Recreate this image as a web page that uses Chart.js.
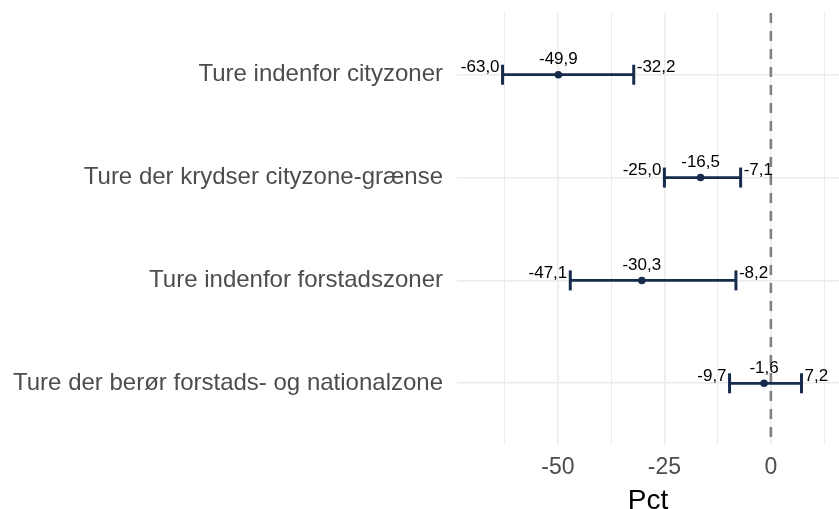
<!DOCTYPE html>
<html>
<head>
<meta charset="utf-8">
<script src="https://cdn.jsdelivr.net/npm/chart.js@4/dist/chart.umd.min.js"></script>
<style>
  html, body { margin: 0; padding: 0; background: #fff; }
  #wrap { width: 839px; height: 509px; }
</style>
</head>
<body>
<div id="wrap"><canvas id="chart" width="839" height="509"></canvas></div>
<script>
const categories = [
  'Ture indenfor cityzoner',
  'Ture der krydser cityzone-grænse',
  'Ture indenfor forstadszoner',
  'Ture der berør forstads- og nationalzone'
]
const estimate = [-49.9, -16.5, -30.3, -1.6]
const lower = [-63.0, -25.0, -47.1, -9.7]
const upper = [-32.2, -7.1, -8.2, 7.2]
const xTicks = [-62.5, -50, -37.5, -25, -12.5, 0, 12.5]

const navy = '#172b4d'
const fmt = v => v.toFixed(1).replace('.', ',')

// one horizontal segment per row
const barSets = categories.map((c, i) => ({
  type: 'line',
  data: [{ x: lower[i], y: i + 1 }, { x: upper[i], y: i + 1 }],
  borderColor: navy,
  borderWidth: 2.7,
  pointRadius: 0,
  order: 2
}))

const capPoints = []
categories.forEach((c, i) => {
  capPoints.push({ x: lower[i], y: i + 1 })
  capPoints.push({ x: upper[i], y: i + 1 })
})

const labelPlugin = {
  id: 'valueLabels',
  afterDatasetsDraw(chart) {
    const { ctx, scales: { x, y } } = chart
    ctx.save()
    ctx.font = '17px "Liberation Sans", Arial, sans-serif'
    ctx.fillStyle = '#000'
    ctx.textBaseline = 'middle'
    categories.forEach((c, i) => {
      const py = y.getPixelForValue(i + 1)
      ctx.textAlign = 'right'
      ctx.fillText(fmt(lower[i]), x.getPixelForValue(lower[i]) - 3, py - 7)
      ctx.textAlign = 'left'
      ctx.fillText(fmt(upper[i]), x.getPixelForValue(upper[i]) + 3, py - 7)
      ctx.textAlign = 'center'
      ctx.fillText(fmt(estimate[i]), x.getPixelForValue(estimate[i]), py - 15)
    })
    ctx.restore()
  }
}

new Chart(document.getElementById('chart'), {
  type: 'scatter',
  data: {
    datasets: [
      {
        type: 'line',
        data: [{ x: 0, y: 0.4 }, { x: 0, y: 4.6 }],
        borderColor: '#808080',
        borderWidth: 2.6,
        borderDash: [10, 8],
        pointRadius: 0,
        order: 3
      },
      ...barSets,
      {
        data: capPoints,
        pointStyle: 'line',
        rotation: 90,
        radius: 10,
        borderColor: navy,
        borderWidth: 3,
        order: 1
      },
      {
        data: estimate.map((v, i) => ({ x: v, y: i + 1 })),
        pointStyle: 'circle',
        radius: 3.8,
        backgroundColor: navy,
        borderColor: navy,
        borderWidth: 0,
        order: 0
      }
    ]
  },
  options: {
    responsive: false,
    animation: false,
    events: [],
    layout: { autoPadding: false, padding: { top: 13, right: 0, left: 0, bottom: 0 } },
    plugins: { legend: { display: false }, tooltip: { enabled: false } },
    scales: {
      x: {
        type: 'linear',
        min: -73.7,
        max: 16,
        afterBuildTicks: s => { s.ticks = xTicks.map(v => ({ value: v })) },
        afterFit: s => { s.height = 64; s.paddingRight = 0; s.paddingLeft = 0 },
        grid: {
          drawTicks: false,
          color: '#ebebeb',
          lineWidth: ctx => (ctx.tick && ctx.tick.value % 25 === 0) ? 1.6 : 1
        },
        border: { display: false },
        ticks: {
          padding: 9,
          color: '#4d4d4d',
          font: { size: 23, family: '"Liberation Sans", Arial, sans-serif' },
          callback: v => (v % 25 === 0 ? String(v) : '')
        },
        title: {
          display: true,
          text: 'Pct',
          color: '#000',
          padding: { top: 0, bottom: -9 },
          font: { size: 28, family: '"Liberation Sans", Arial, sans-serif' }
        }
      },
      y: {
        type: 'linear',
        reverse: true,
        min: 0.4,
        max: 4.6,
        afterBuildTicks: s => { s.ticks = [1, 2, 3, 4].map(v => ({ value: v })) },
        afterFit: s => { s.width = 457; s.paddingTop = 0; s.paddingBottom = 0 },
        grid: { drawTicks: false, color: '#ebebeb', lineWidth: 1.6 },
        border: { display: false },
        ticks: {
          padding: 14,
          color: '#4d4d4d',
          font: { size: 24, family: '"Liberation Sans", Arial, sans-serif' },
          callback: v => categories[v - 1]
        }
      }
    }
  },
  plugins: [labelPlugin]
})
</script>
</body>
</html>
